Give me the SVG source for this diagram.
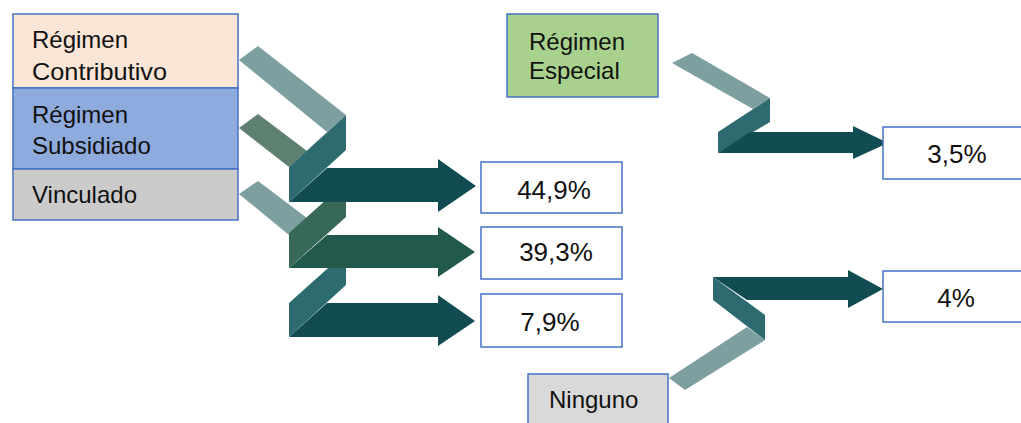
<svg xmlns="http://www.w3.org/2000/svg" width="1021" height="423" viewBox="0 0 1021 423">
<style>
.box{stroke:#4472c4;stroke-width:1.5}
.lbl{font-family:"Liberation Sans",Arial,sans-serif;font-size:24px;fill:#111}
.pct{font-family:"Liberation Sans",Arial,sans-serif;font-size:26px;fill:#111;text-anchor:middle}
.band{fill:#7e9fa0}
.bandg{fill:#5e8070}
.fold{fill:#2e6b70}
.foldg{fill:#386858}
.arr{fill:#124c53}
.arrg{fill:#215a4d}
</style>
<rect width="1021" height="423" fill="#ffffff"/>
<g id="connectors">
  <polygon class="band" points="239,60 258,46 346,115 327,132"/>
  <polygon class="bandg" points="239,128 258,114 307,151 289,167"/>
  <polygon class="band" points="239,194 258,181 307,218 289,235"/>
  <polygon class="fold" points="289,303 346,252 346,285 289,337"/>
  <polygon class="foldg" points="289,233 346,182 346,217 289,268"/>
  <polygon class="fold" points="289,167 346,115 346,150 289,202"/>
  <polygon class="arr" points="289,337 327,303 438,303 438,295 475,321 438,346 438,337"/>
  <polygon class="arrg" points="289,268 327,235 438,235 438,227 475,252 438,277 438,268"/>
  <polygon class="arr" points="289,202 327,168 438,168 438,159 476,186 438,212 438,202"/>
  <polygon class="band" points="672,63 692,53 770,98 753,109"/>
  <polygon class="fold" points="718,132 770,98 770,122 718,153"/>
  <polygon class="arr" points="718,153 750,132 853,132 853,126 888,143 853,159 853,153"/>
  <polygon class="band" points="669,378 685,390 765,340 747,327"/>
  <polygon class="fold" points="713,277 765,315 765,340 713,300"/>
  <polygon class="arr" points="713,277 848,277 848,270 883,289 848,308 848,300 747,300"/>
</g>
<g id="contributivo">
  <rect class="box" x="13" y="14" width="225" height="74" fill="#fbe5d6"/>
  <text class="lbl" x="32" y="48">Régimen</text>
  <text class="lbl" x="32" y="80" textLength="135" lengthAdjust="spacingAndGlyphs">Contributivo</text>
</g>
<g id="subsidiado">
  <rect class="box" x="13" y="88" width="225" height="81" fill="#8faadc"/>
  <text class="lbl" x="32" y="123">Régimen</text>
  <text class="lbl" x="32" y="154">Subsidiado</text>
</g>
<g id="vinculado">
  <rect class="box" x="13" y="169" width="225" height="51" fill="#cbcbcb"/>
  <text class="lbl" x="32" y="203">Vinculado</text>
</g>
<g id="especial">
  <rect class="box" x="507" y="14" width="151" height="83" fill="#a9d18e"/>
  <text class="lbl" x="529" y="50">Régimen</text>
  <text class="lbl" x="529" y="79">Especial</text>
</g>
<g id="ninguno">
  <rect class="box" x="528" y="374" width="140" height="55" fill="#d9d9d9"/>
  <text class="lbl" x="549" y="408">Ninguno</text>
</g>
<g id="p449">
  <rect class="box" x="481" y="162" width="141" height="51" fill="#ffffff"/>
  <text class="pct" x="554" y="199">44,9%</text>
</g>
<g id="p393">
  <rect class="box" x="481" y="227" width="141" height="52" fill="#ffffff"/>
  <text class="pct" x="556" y="261">39,3%</text>
</g>
<g id="p79">
  <rect class="box" x="481" y="294" width="141" height="53" fill="#ffffff"/>
  <text class="pct" x="550" y="331">7,9%</text>
</g>
<g id="p35">
  <rect class="box" x="883" y="127" width="145" height="52" fill="#ffffff"/>
  <text class="pct" x="957" y="163">3,5%</text>
</g>
<g id="p4">
  <rect class="box" x="883" y="271" width="145" height="51" fill="#ffffff"/>
  <text class="pct" x="956" y="307">4%</text>
</g>
</svg>
